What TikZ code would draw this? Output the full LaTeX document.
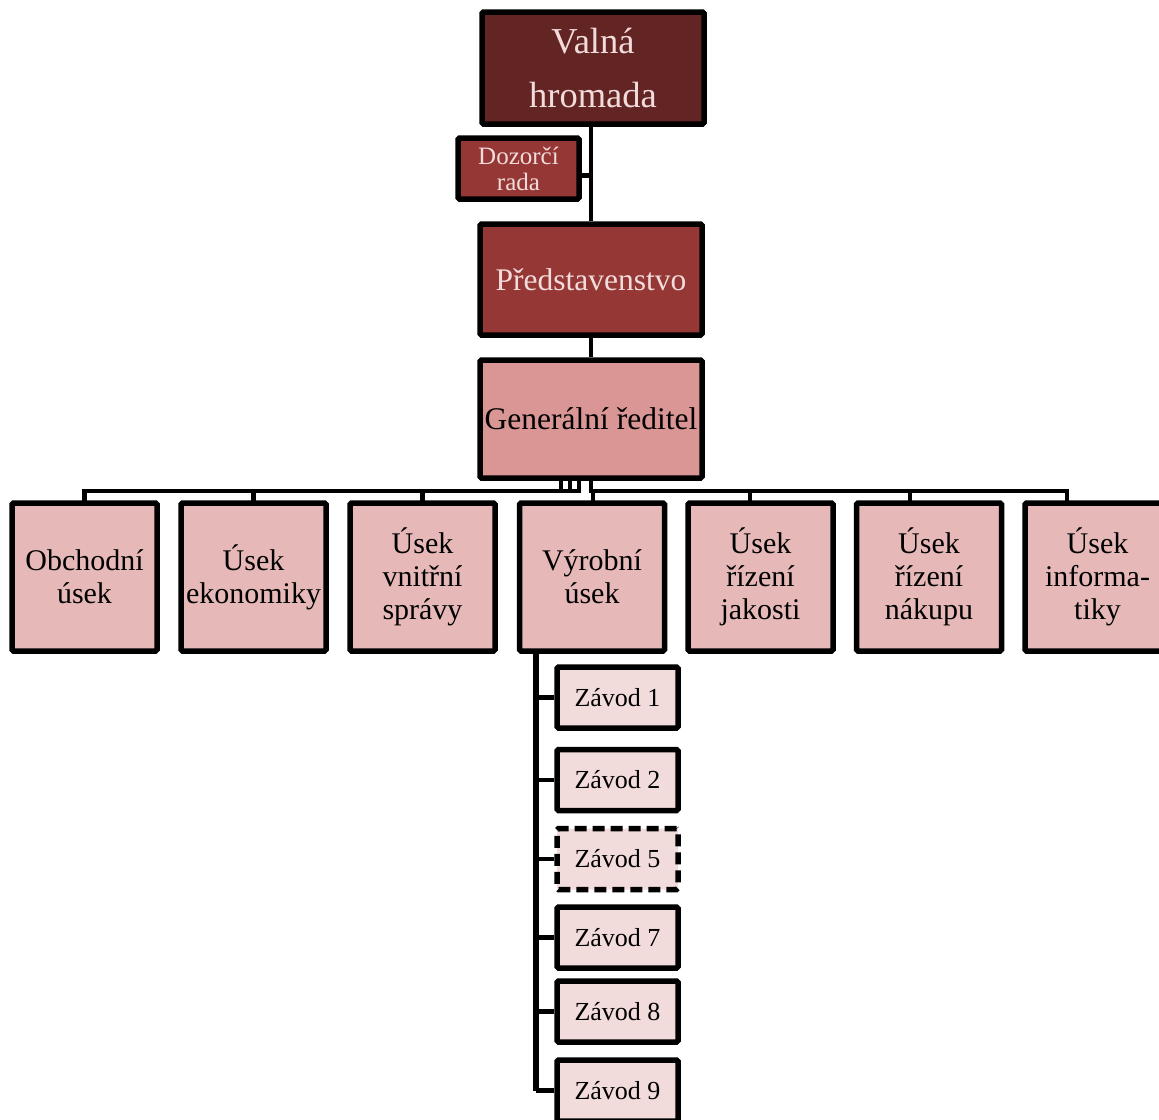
\documentclass[tikz,border=0pt]{standalone}
\usepackage{fontspec}
\setmainfont{Liberation Serif}
\usetikzlibrary{calc}
\definecolor{assembly}{HTML}{632523}
\definecolor{board}{HTML}{953735}
\definecolor{director}{HTML}{D99694}
\definecolor{unit}{HTML}{E6B9B8}
\definecolor{plant}{HTML}{F2DCDB}
\definecolor{lighttext}{HTML}{F2DCDB}
\begin{document}
\begin{tikzpicture}[x=1pt,y=-1pt,
  box/.style={draw=black,line width=5.5pt,rounded corners=1.5pt,inner sep=0pt,align=center},
  topbox/.style={box,minimum width=222pt,minimum height=112pt},
  unitbox/.style={box,fill=unit,minimum width=145pt,minimum height=148pt,
                  font=\fontsize{30}{33}\selectfont},
  plantbox/.style={box,fill=plant,minimum width=121pt,minimum height=61pt,
                   font=\fontsize{26}{30}\selectfont},
  link/.style={draw=black,line width=4.5pt},
  spine/.style={draw=black,line width=5.5pt}]
\useasboundingbox (0,0) rectangle (1159,1119);

% governing bodies
\node[topbox,fill=assembly,text=lighttext,font=\fontsize{36.5}{54}\selectfont]
  (vh) at (593,68) {Valná\\hromada};
\node[box,fill=board,text=lighttext,minimum width=121pt,minimum height=61pt,
      font=\fontsize{25}{26}\selectfont] (dr) at (518.5,168.5) {Dozorčí\\rada};
\node[topbox,fill=board,text=lighttext,minimum height=111pt,font=\fontsize{31.5}{36}\selectfont]
  (pr) at (591,279.5) {Představenstvo};
\node[topbox,fill=director,minimum height=118pt,font=\fontsize{31.5}{36}\selectfont]
  (gr) at (591,419) {Generální ředitel};

% divisions
\node[unitbox] (n1) at (84.5,577)  {Obchodní\\úsek};
\node[unitbox] (n2) at (253.5,577) {Úsek\\ekonomiky};
\node[unitbox] (n3) at (422.5,577) {Úsek\\vnitřní\\správy};
\node[unitbox] (n4) at (592,577)   {Výrobní\\úsek};
\node[unitbox] (n5) at (760.5,577) {Úsek\\řízení\\jakosti};
\node[unitbox] (n6) at (929,577)   {Úsek\\řízení\\nákupu};
\node[unitbox] (n7) at (1097.5,577) {Úsek\\informa-\\tiky};

% plants
\node[plantbox] (z1) at (617.5,697.5)  {Závod 1};
\node[plantbox] (z2) at (617.5,780)    {Závod 2};
\node[plantbox,dash pattern=on 12pt off 6pt] (z5) at (617.5,859) {Závod 5};
\node[plantbox] (z7) at (617.5,937.5)  {Závod 7};
\node[plantbox] (z8) at (617.5,1011.5) {Závod 8};
\node[plantbox] (z9) at (617.5,1090.5) {Závod 9};

% top chain
\draw[link] (pr.north) -- (pr.north |- vh.south);
\draw[link] ([yshift=-7pt]dr.east) -- ([yshift=-7pt]dr.east -| pr.north);
\draw[link] (pr.south) -- (gr.north);

% bus below the general director
\coordinate (bus) at ($(gr.south)+(0,10)$);
\foreach \n/\o/\s in {n1/-30/0, n2/-21/0, n3/-12/0, n4/0/1, n5/0/-10.5, n6/0/-19, n7/0/-30.5}{
  \draw[link,line cap=rect] ([xshift=\o pt]gr.south) -- ([xshift=\o pt]bus) -| ([xshift=\s pt]\n.north);
}

% plants under the production division
\coordinate (sp) at ($(n4.south)+(-56,0)$);
\draw[spine] (sp) -- (sp |- z9.west);
\foreach \z in {z1,z2,z5,z7,z8,z9}{
  \draw[link] (sp |- \z.west) -- (\z.west);
}
\end{tikzpicture}
\end{document}
